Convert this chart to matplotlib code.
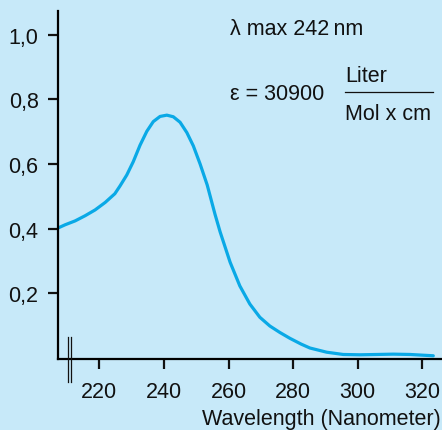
import matplotlib
matplotlib.use("Agg")
import matplotlib.pyplot as plt
from matplotlib.lines import Line2D

plt.rcParams['font.family'] = ['Liberation Sans', 'DejaVu Sans']

# absorption spectrum
wavelength = [207.2, 209.4, 212.5, 215.6, 218.7, 221.8, 224.8, 226.4, 228.5,
              230.5, 232.6, 234.7, 236.7, 238.8, 240.9, 242.9, 245.0, 247.1,
              249.1, 251.2, 253.4, 255.8, 257.4, 260.5, 263.5, 266.6, 269.7,
              272.8, 275.9, 279.0, 282.5, 285.2, 290.4, 295.5, 300.7, 306.0,
              311.0, 316.2, 323.4]
absorbance = [0.402, 0.412, 0.424, 0.440, 0.458, 0.481, 0.508, 0.532, 0.566,
              0.607, 0.658, 0.701, 0.731, 0.747, 0.751, 0.746, 0.729, 0.697,
              0.656, 0.600, 0.535, 0.445, 0.390, 0.296, 0.223, 0.167, 0.126,
              0.099, 0.079, 0.061, 0.043, 0.031, 0.018, 0.011, 0.010, 0.011,
              0.012, 0.011, 0.007]

x_ticks = [220, 240, 260, 280, 300, 320]
y_ticks = [0.2, 0.4, 0.6, 0.8, 1.0]
y_labels = ['0,2', '0,4', '0,6', '0,8', '1,0']

bg = '#c7e9f9'
ink = '#111111'
W, H = 442, 431
fs = 15.5

fig = plt.figure(figsize=(4.42, 4.31), dpi=100, facecolor=bg)
ax = fig.add_axes([58 / W, 1 - 360 / H, (W - 58) / W, 348 / H])
ax.set_facecolor(bg)

ax.plot(wavelength, absorbance, color='#0aa9e6', lw=2.3,
        solid_capstyle='round', solid_joinstyle='round')

ax.set_xlim(207.2, 326.1)
ax.set_ylim(-0.003, 1.073)
ax.set_xticks(x_ticks)
ax.set_xticklabels([str(t) for t in x_ticks])
ax.set_yticks(y_ticks)
ax.set_yticklabels(y_labels)

for s in ['top', 'right']:
    ax.spines[s].set_visible(False)
for s in ['left', 'bottom']:
    ax.spines[s].set_linewidth(1.6)
ax.tick_params(axis='both', direction='out', length=7.5, width=1.6,
               labelsize=fs, colors=ink)
ax.tick_params(axis='y', pad=6.5)
ax.tick_params(axis='x', pad=8.0)

# axis break marks
for xp in (67.5, 70.5):
    fig.add_artist(Line2D([xp / W, xp / W], [1 - 338 / H, 1 - 383 / H],
                          color=ink, lw=0.9))

fig.text(441 / W, 1 - 425.5 / H, 'Wavelength (Nanometer)', ha='right',
         va='baseline', fontsize=fs, color=ink)

fig.text(230 / W, 1 - 35 / H, 'λ max 242\u2009nm', ha='left', va='baseline',
         fontsize=fs, color=ink)
fig.text(230 / W, 1 - 100 / H, 'ε = 30900', ha='left', va='baseline',
         fontsize=fs, color=ink)
fig.text(345 / W, 1 - 82.5 / H, 'Liter', ha='left', va='baseline',
         fontsize=fs, color=ink)
fig.text(345 / W, 1 - 120 / H, 'Mol x cm', ha='left', va='baseline',
         fontsize=fs, color=ink)
fig.add_artist(Line2D([345 / W, 433 / W], [1 - 92.7 / H, 1 - 92.7 / H],
                      color=ink, lw=0.9))

fig.savefig('out.png', dpi=100, facecolor=bg)
